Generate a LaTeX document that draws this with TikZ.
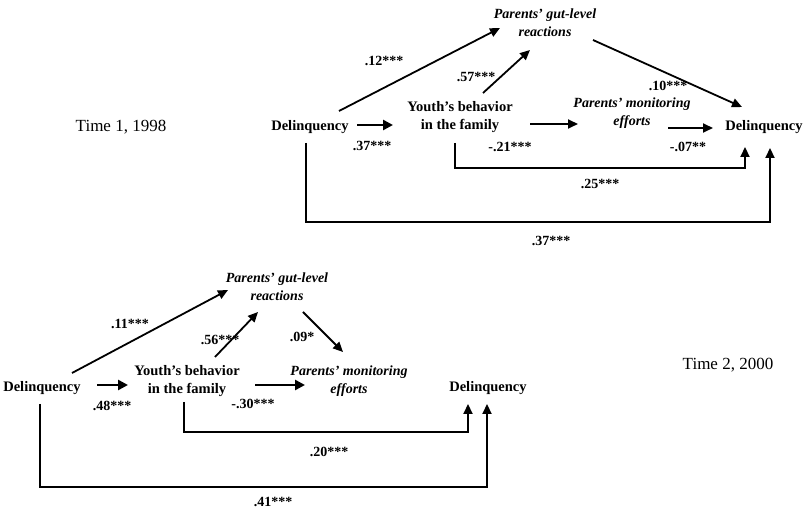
\documentclass[tikz,border=0pt]{standalone}
\usepackage{fontspec}
\setmainfont{Liberation Serif}
\usetikzlibrary{arrows.meta,calc}

\tikzset{
  var/.style={font=\bfseries\fontsize{14.5}{18}\selectfont, align=center, inner sep=1pt},
  pvar/.style={font=\bfseries\itshape\fontsize{14}{18}\selectfont, align=center, inner sep=1pt},
  coef/.style={font=\bfseries\fontsize{14}{16}\selectfont, inner sep=1pt},
  timelbl/.style={font=\fontsize{17}{20}\selectfont, inner sep=1pt},
  arr/.style={line width=1.8pt, -{Triangle[length=10pt,width=9pt]}},
  thickarr/.style={line width=2.6pt, -{Triangle[length=10pt,width=10pt]}},
  loop/.style={line width=2.2pt, -{Triangle[length=10pt,width=9pt]}}
}

\begin{document}
\begin{tikzpicture}[x=1pt,y=-1pt]
\useasboundingbox (0,0) rectangle (807,510);

% ---------- Time 1, 1998 ----------
\node[timelbl] (t1) at (121,127) {Time 1, 1998};
\node[var]  (d1) at (310,127) {Delinquency};
\node[var]  (y1) at (460,117) {Youth's behavior\\in the family};
\node[pvar] (g1) at (545,23)  {Parents' gut-level\\reactions};
\node[pvar] (m1) at (632,113) {Parents' monitoring\\efforts};
\node[var]  (o1) at (764,127) {Delinquency};

\draw[thickarr] ($(d1)+(47,-2)$) -- ($(y1)+(-67,8)$);
\draw[arr] ($(d1)+(29,-16)$) -- ($(g1)+(-45,5)$);
\draw[arr] ($(y1)+(23,-24)$) -- ($(g1)+(-15,27)$);
\draw[arr] ($(y1)+(70,7)$) -- ($(m1)+(-54,11)$);
\draw[arr] ($(m1)+(36,15)$) -- ($(o1)+(-51,1)$);
\draw[arr] ($(g1)+(48,17)$) -- ($(o1)+(-22,-20)$);
\draw[loop] ($(y1)+(-5,26)$) |- ($(o1)+(-19,41)$) -- ($(o1)+(-19,20)$);
\draw[loop] ($(d1)+(-4,16)$) |- ($(o1)+(6,95)$) -- ($(o1)+(6,21)$);

\node[coef] (c1a) at (384,61)  {.12***};
\node[coef] (c1b) at (476,77)  {.57***};
\node[coef] (c1c) at (668,86)  {.10***};
\node[coef] (c1d) at (372,146) {.37***};
\node[coef] (c1e) at (510,147) {-.21***};
\node[coef] (c1f) at (688,147) {-.07**};
\node[coef] (c1g) at (600,184) {.25***};
\node[coef] (c1h) at (551,241) {.37***};

% ---------- Time 2, 2000 ----------
\node[timelbl] (t2) at (728,365) {Time 2, 2000};
\node[var]  (d2) at (42,388)  {Delinquency};
\node[var]  (y2) at (187,381) {Youth's behavior\\in the family};
\node[pvar] (g2) at (277,287) {Parents' gut-level\\reactions};
\node[pvar] (m2) at (349,381) {Parents' monitoring\\efforts};
\node[var]  (o2) at (488,388) {Delinquency};

\draw[thickarr] ($(d2)+(55,-3)$) -- ($(y2)+(-59,4)$);
\draw[arr] ($(d2)+(30,-15)$) -- ($(g2)+(-49,3)$);
\draw[arr] ($(y2)+(28,-24)$) -- ($(g2)+(-19,25)$);
\draw[arr] ($(g2)+(26,25)$) -- ($(m2)+(-6,-29)$);
\draw[thickarr] ($(y2)+(68,4)$) -- ($(m2)+(-44,4)$);
\draw[loop] ($(y2)+(-3,21)$) |- ($(o2)+(-20,44)$) -- ($(o2)+(-20,16)$);
\draw[loop] ($(d2)+(-2,16)$) |- ($(o2)+(-1,99)$) -- ($(o2)+(-1,16)$);

\node[coef] (c2a) at (130,324) {.11***};
\node[coef] (c2b) at (220,340) {.56***};
\node[coef] (c2c) at (302,337) {.09*};
\node[coef] (c2d) at (112,406) {.48***};
\node[coef] (c2e) at (253,404) {-.30***};
\node[coef] (c2f) at (329,452) {.20***};
\node[coef] (c2g) at (273,502) {.41***};
\end{tikzpicture}
\end{document}
